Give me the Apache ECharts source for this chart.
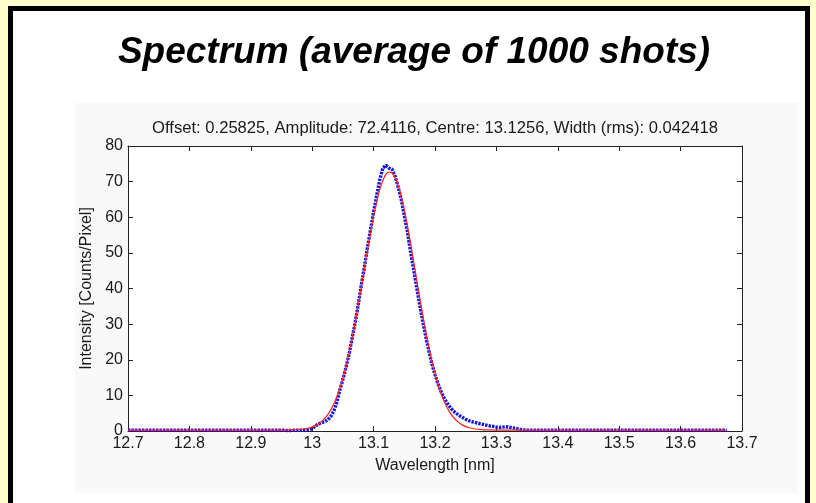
<!DOCTYPE html>
<html>
<head>
<meta charset="utf-8">
<script src="https://cdn.jsdelivr.net/npm/echarts@6/dist/echarts.min.js"></script>
<style>
  html, body { margin:0; padding:0; background:#ffffcc; overflow:hidden; }
  #frame { position:absolute; left:8px; top:6px; width:792px; height:600px; border:5px solid #000; background:#fff; }
  #chart { position:absolute; left:0; top:0; width:816px; height:503px; }
</style>
</head>
<body>
<div id="frame"></div>
<div id="chart"></div>
<script>
// ---- data ----
const titleText = 'Spectrum (average of 1000 shots)';
const subtitleText = 'Offset: 0.25825, Amplitude: 72.4116, Centre: 13.1256, Width (rms): 0.042418';
const xAxisName = 'Wavelength [nm]';
const yAxisName = 'Intensity [Counts/Pixel]';
const xTicks = [12.7, 12.8, 12.9, 13, 13.1, 13.2, 13.3, 13.4, 13.5, 13.6, 13.7];
const yTicks = [0, 10, 20, 30, 40, 50, 60, 70, 80];

// measured spectrum (blue dots)
const measuredWavelength = [
  12.70,12.71,12.72,12.73,12.74,12.75,12.76,12.77,12.78,12.79,
  12.80,12.81,12.82,12.83,12.84,12.85,12.86,12.87,12.88,12.89,
  12.90,12.91,12.92,12.93,12.94,
  12.945,12.950,12.955,12.960,12.965,12.970,12.975,12.980,12.985,12.990,12.995,
  13.000,13.005,13.010,13.015,13.020,13.025,13.030,13.035,13.040,13.045,
  13.050,13.055,13.060,13.065,13.070,13.075,13.080,13.085,13.090,13.095,
  13.100,13.105,13.110,13.115,13.120,13.125,13.130,13.135,13.140,13.145,
  13.150,13.155,13.160,13.165,13.170,13.175,13.180,13.185,13.190,13.195,
  13.200,13.205,13.210,13.215,13.220,13.225,13.230,13.235,13.240,13.245,
  13.250,13.255,13.260,13.265,13.270,13.275,13.280,13.285,13.290,13.295,
  13.300,13.305,13.310,13.315,13.320,13.325,13.330,13.335,13.340,13.345,
  13.350,13.355,13.360,
  13.37,13.38,13.39,13.40,13.41,13.42,13.43,13.44,13.45,13.46,
  13.47,13.48,13.49,13.50,13.51,13.52,13.53,13.54,13.55,13.56,
  13.57,13.58,13.59,13.60,13.61,13.62,13.63,13.64,13.65,13.66,13.67,13.675
];
const measuredIntensity = [
  0.2,0.2,0.2,0.2,0.2,0.2,0.2,0.2,0.2,0.2,
  0.2,0.2,0.2,0.2,0.2,0.2,0.2,0.2,0.2,0.2,
  0.2,0.2,0.2,0.2,0.2,
  0.2,0.2,0.2,0.15,0.15,0.2,0.2,0.2,0.25,0.3,0.4,
  0.6,1.4,2.0,2.3,2.6,3.1,4.0,5.5,8.0,11.5,
  14.5,17.8,21.5,26.0,30.5,35.5,41.0,46.0,51.5,56.5,
  61.5,66.0,70.5,73.8,74.6,73.8,73.5,71.5,68.5,65.0,
  60.5,56.0,50.5,45.5,40.5,35.5,30.8,26.5,22.5,18.8,
  15.8,13.2,11.0,9.2,7.8,6.6,5.6,4.9,4.3,3.8,
  3.3,2.9,2.6,2.4,2.2,2.0,1.8,1.6,1.4,1.3,
  1.1,1.0,1.1,1.2,1.1,0.9,0.8,0.6,0.4,0.3,
  0.25,0.2,0.2,
  0.2,0.2,0.2,0.2,0.2,0.2,0.2,0.2,0.2,0.2,
  0.2,0.2,0.2,0.2,0.2,0.2,0.2,0.2,0.2,0.2,
  0.2,0.2,0.2,0.2,0.2,0.2,0.2,0.2,0.2,0.2,0.2,0.2
];

// fitted curve (red line)
const fitWavelength = [
  12.70,12.80,12.90,12.95,12.966,12.976,12.986,12.996,13.006,13.016,
  13.026,13.036,13.046,13.056,13.066,13.076,13.086,13.096,13.106,13.116,
  13.126,13.136,13.146,13.156,13.166,13.176,13.186,13.196,13.206,13.216,
  13.226,13.236,13.246,13.256,13.266,13.276,13.286,13.30,13.40,13.50,13.60,13.675
];
const fitIntensity = [
  0.26,0.26,0.26,0.27,0.32,0.40,0.57,0.92,1.58,2.76,
  4.75,7.87,12.5,18.8,26.9,36.4,46.7,56.6,65.0,70.7,
  72.7,70.7,65.0,56.6,46.7,36.4,26.9,18.8,12.5,7.87,
  4.75,2.76,1.58,0.92,0.57,0.40,0.32,0.27,0.26,0.26,0.26,0.26
];

const FONT = "'Liberation Sans', Arial, Helvetica, sans-serif";
const AXIS_COLOR = '#222';
const TEXT_COLOR = '#1a1a1a';

const measured = measuredWavelength.map((x, i) => [x, measuredIntensity[i]]);
const fit = fitWavelength.map((x, i) => [x, fitIntensity[i]]);

const xMin = xTicks[0], xMax = xTicks[xTicks.length - 1];
const yMin = yTicks[0], yMax = yTicks[yTicks.length - 1];

const chart = echarts.init(document.getElementById('chart'), null, { renderer: 'canvas' });

const axisCommon = {
  axisLine: { show: true, onZero: false, lineStyle: { color: AXIS_COLOR, width: 1 } },
  axisTick: { show: true, inside: true, length: 5, lineStyle: { color: AXIS_COLOR, width: 1 } },
  splitLine: { show: false },
  minorTick: { show: false }
};

chart.setOption({
  animation: false,
  backgroundColor: 'transparent',
  graphic: [
    { type: 'rect', z: -10, silent: true, shape: { x: 75, y: 103, width: 723, height: 390 }, style: { fill: '#f9f9f9' } },
    { type: 'text', silent: true, x: 414, y: 52.5, style: {
        text: titleText, fill: '#000', font: "italic bold 37px " + FONT, align: 'center', verticalAlign: 'middle' } },
    { type: 'text', silent: true, x: 435, y: 128.5, style: {
        text: subtitleText, fill: TEXT_COLOR, font: "16.6px " + FONT, align: 'center', verticalAlign: 'middle' } }
  ],
  grid: { left: 128, top: 146, width: 614, height: 285, show: true, backgroundColor: '#fff', borderWidth: 0, containLabel: false },
  xAxis: [
    Object.assign({}, axisCommon, {
      type: 'value', position: 'bottom', min: xMin, max: xMax, interval: 0.1,
      name: xAxisName, nameLocation: 'middle', nameGap: 27,
      nameTextStyle: { fontFamily: FONT, fontSize: 16, color: TEXT_COLOR },
      axisLabel: { show: true, margin: 5, fontFamily: FONT, fontSize: 16, color: TEXT_COLOR,
        showMinLabel: true, showMaxLabel: true, hideOverlap: false,
        formatter: v => String(+(+v).toFixed(1)) }
    }),
    Object.assign({}, axisCommon, {
      type: 'value', position: 'top', min: xMin, max: xMax, interval: 0.1,
      axisLabel: { show: false }
    })
  ],
  yAxis: [
    Object.assign({}, axisCommon, {
      type: 'value', position: 'left', min: yMin, max: yMax, interval: 10,
      name: yAxisName, nameLocation: 'middle', nameGap: 32, nameRotate: 90,
      nameTextStyle: { fontFamily: FONT, fontSize: 16, color: TEXT_COLOR },
      axisLabel: { show: true, margin: 5, fontFamily: FONT, fontSize: 16, color: TEXT_COLOR,
        showMinLabel: true, showMaxLabel: true, hideOverlap: false }
    }),
    Object.assign({}, axisCommon, {
      type: 'value', position: 'right', min: yMin, max: yMax, interval: 10,
      axisLabel: { show: false }
    })
  ],
  series: [
    {
      name: 'measured', type: 'line', xAxisIndex: 0, yAxisIndex: 0, data: measured,
      showSymbol: false, symbol: 'none', smooth: false, clip: true,
      lineStyle: { color: '#1414e6', width: 3.4, type: [2.4, 1.1], cap: 'butt' },
      z: 2
    },
    {
      name: 'fit', type: 'line', xAxisIndex: 0, yAxisIndex: 0, data: fit,
      showSymbol: false, symbol: 'none', smooth: true, clip: true,
      lineStyle: { color: '#ff2020', width: 1.2 },
      z: 3
    }
  ]
});
</script>
</body>
</html>
